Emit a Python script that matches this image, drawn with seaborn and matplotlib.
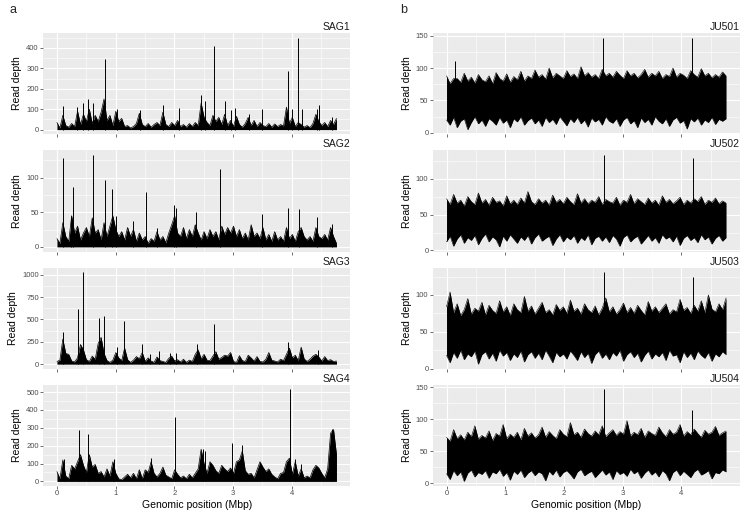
import numpy as np
import seaborn as sns
import matplotlib.pyplot as plt
from matplotlib.ticker import MultipleLocator

GENOME_MBP = 4.76

# panel a: coverage per 0.05 Mbp window + sharp single-window spikes
sag1_base = [35, 8, 70, 20, 12, 30, 15, 90, 25, 75,
             40, 100, 30, 70, 40, 85, 150, 45, 70, 20,
             90, 40, 55, 15, 20, 8, 15, 30, 80, 25,
             15, 30, 12, 25, 35, 20, 85, 25, 15, 35,
             20, 45, 15, 25, 12, 30, 15, 35, 20, 130,
             60, 35, 20, 70, 40, 60, 25, 75, 20, 45,
             15, 65, 25, 12, 30, 60, 20, 45, 15, 35,
             20, 15, 30, 12, 28, 15, 25, 18, 110, 30,
             60, 15, 35, 25, 12, 20, 10, 30, 75, 40,
             20, 35, 15, 45, 25, 55]
sag1_spike_x = [0.11, 0.34, 0.45, 0.53, 0.61, 0.82, 1.02, 1.41, 1.81, 2.07, 2.46, 2.52, 2.68,
                2.86, 2.96, 3.03, 3.27, 3.49, 3.94, 4.01, 4.11, 4.18, 4.43, 4.46, 4.68]
sag1_spike_y = [115, 110, 130, 150, 130, 345, 100, 95, 120, 105, 170, 140, 410,
                140, 95, 105, 75, 100, 285, 100, 450, 100, 100, 120, 60]

sag2_base = [12, 5, 35, 15, 8, 45, 20, 30, 10, 20,
             28, 15, 42, 20, 25, 10, 35, 15, 30, 45,
             25, 15, 22, 10, 28, 15, 25, 8, 20, 10,
             15, 5, 12, 8, 22, 10, 15, 6, 20, 32,
             45, 20, 15, 28, 12, 25, 15, 32, 20, 10,
             22, 12, 25, 15, 22, 10, 30, 18, 28, 20,
             30, 15, 25, 12, 20, 10, 32, 15, 20, 12,
             28, 10, 18, 8, 22, 10, 15, 8, 28, 12,
             18, 8, 22, 28, 15, 10, 15, 8, 28, 15,
             12, 18, 10, 28, 15, 5]
sag2_spike_x = [0.11, 0.24, 0.28, 0.62, 0.81, 0.94, 1.00, 1.30, 1.52, 1.71,
                1.99, 2.03, 2.37, 2.78, 3.49, 3.93, 4.13, 4.42, 4.68]
sag2_spike_y = [128, 44, 87, 133, 97, 84, 45, 38, 80, 28,
                61, 56, 50, 113, 48, 56, 55, 43, 33]

sag3_base = [30, 45, 280, 120, 110, 35, 25, 70, 220, 160,
             50, 30, 90, 55, 230, 300, 120, 40, 20, 45,
             130, 70, 40, 180, 50, 20, 45, 85, 60, 130,
             30, 70, 35, 20, 80, 40, 30, 20, 65, 90,
             35, 50, 25, 55, 20, 45, 30, 110, 160, 60,
             110, 45, 40, 90, 140, 55, 75, 100, 90, 130,
             30, 20, 95, 40, 30, 100, 70, 35, 85, 30,
             25, 55, 130, 45, 35, 25, 55, 40, 110, 180,
             70, 100, 40, 190, 60, 30, 55, 90, 110, 80,
             35, 85, 40, 50, 30, 35]
sag3_spike_x = [0.11, 0.35, 0.44, 0.72, 0.80, 1.02, 1.14, 1.45, 1.58, 1.73,
                1.93, 2.03, 2.38, 2.68, 3.94, 4.44]
sag3_spike_y = [360, 620, 1030, 520, 540, 190, 480, 220, 110, 150,
                120, 120, 230, 450, 250, 160]

sag4_base = [55, 15, 120, 30, 15, 90, 70, 110, 150, 90,
             50, 150, 80, 95, 45, 55, 25, 70, 30, 110,
             45, 15, 10, 25, 40, 20, 45, 15, 65, 15,
             65, 50, 110, 45, 25, 45, 80, 35, 25, 15,
             65, 40, 20, 30, 15, 40, 20, 45, 70, 180,
             100, 45, 110, 90, 60, 45, 90, 70, 55, 75,
             45, 110, 120, 170, 60, 40, 45, 20, 65, 110,
             80, 55, 70, 40, 25, 15, 45, 50, 110, 130,
             40, 110, 30, 70, 20, 30, 20, 65, 90, 75,
             45, 20, 70, 270, 290, 150]
sag4_spike_x = [0.12, 0.38, 0.53, 0.97, 1.61, 2.01, 2.48, 2.52, 2.98, 3.15, 3.97, 4.05, 4.16, 4.69]
sag4_spike_y = [125, 290, 265, 125, 130, 360, 180, 170, 215, 205, 515, 125, 100, 295]

# panel b: min / max read depth per 0.06 Mbp window + isolated spikes
ju501_hi = [88, 76, 84, 84, 78, 92, 80, 86, 77, 90,
            82, 79, 88, 76, 93, 84, 80, 91, 78, 87,
            82, 95, 80, 88, 84, 97, 86, 90, 83, 100,
            85, 92, 88, 84, 96, 87, 91, 84, 102, 88,
            93, 86, 90, 84, 98, 88, 92, 86, 95, 89,
            84, 96, 88, 92, 85, 90, 98, 86, 92, 88,
            95, 84, 90, 87, 100, 86, 92, 89, 84, 96,
            90, 86, 99, 88, 92, 85, 90, 86, 94, 88]
ju501_lo = [20, 12, 24, 8, 18, 22, 5, 16, 25, 14,
            20, 10, 22, 18, 12, 24, 15, 20, 8, 22,
            17, 25, 12, 19, 23, 14, 20, 10, 24, 16,
            21, 13, 25, 18, 11, 22, 16, 24, 14, 20,
            9, 23, 17, 21, 12, 25, 18, 15, 22, 10,
            20, 24, 14, 19, 8, 23, 16, 21, 12, 25,
            18, 14, 22, 10, 20, 24, 15, 19, 6, 22,
            17, 23, 12, 20, 16, 24, 13, 21, 18, 22]
ju501_spike_x = [0.14, 2.67, 4.18]
ju501_spike_y = [111, 146, 147]

ju502_hi = [72, 64, 78, 66, 70, 62, 75, 68, 64, 80,
            66, 71, 63, 74, 67, 69, 62, 76, 65, 70,
            64, 73, 66, 82, 68, 64, 72, 66, 70, 63,
            77, 67, 71, 65, 74, 68, 64, 79, 66, 72,
            65, 70, 67, 75, 64, 71, 68, 66, 74, 63,
            70, 67, 78, 65, 72, 68, 64, 73, 66, 70,
            63, 76, 67, 71, 65, 69, 74, 64, 70, 66,
            72, 68, 75, 64, 70, 67, 73, 65, 69, 66]
ju502_lo = [12, 20, 6, 16, 22, 10, 18, 14, 21, 8,
            17, 23, 12, 19, 15, 5, 20, 13, 22, 16,
            10, 19, 14, 21, 9, 18, 23, 13, 17, 20,
            7, 16, 22, 12, 19, 15, 21, 10, 18, 14,
            22, 8, 17, 20, 13, 19, 11, 21, 16, 6,
            18, 22, 12, 17, 20, 9, 15, 21, 13, 18,
            10, 22, 16, 19, 12, 20, 7, 17, 21, 14,
            18, 11, 22, 15, 19, 9, 17, 21, 13, 18]
ju502_spike_x = [2.68, 4.19]
ju502_spike_y = [133, 128]

ju503_hi = [84, 104, 76, 88, 72, 80, 95, 74, 82, 78,
            90, 73, 86, 79, 75, 92, 77, 84, 72, 88,
            80, 76, 98, 78, 85, 74, 82, 90, 76, 80,
            73, 87, 79, 84, 75, 93, 78, 82, 74, 88,
            80, 76, 85, 73, 82, 96, 77, 84, 74, 80,
            89, 76, 83, 75, 86, 79, 73, 91, 78, 84,
            76, 82, 88, 74, 80, 77, 94, 79, 83, 75,
            86, 78, 92, 76, 100, 81, 77, 88, 80, 96]
ju503_lo = [18, 8, 22, 14, 25, 12, 20, 16, 24, 6,
            19, 23, 13, 21, 10, 25, 17, 22, 11, 20,
            15, 24, 9, 19, 23, 14, 21, 12, 25, 17,
            8, 22, 16, 20, 13, 24, 18, 11, 23, 15,
            21, 7, 19, 24, 14, 20, 12, 22, 17, 25,
            10, 19, 23, 15, 21, 9, 18, 24, 13, 20,
            16, 22, 11, 25, 17, 19, 8, 23, 15, 21,
            12, 24, 18, 14, 22, 10, 20, 16, 23, 19]
ju503_spike_x = [2.68, 4.19]
ju503_spike_y = [131, 124]

ju504_hi = [72, 66, 84, 70, 76, 68, 80, 73, 90, 69,
            75, 71, 82, 67, 78, 74, 92, 70, 77, 72,
            80, 68, 86, 74, 79, 71, 76, 88, 72, 81,
            75, 70, 84, 77, 73, 95, 76, 80, 72, 85,
            78, 74, 82, 76, 90, 73, 79, 84, 75, 81,
            77, 98, 74, 80, 76, 86, 72, 82, 78, 75,
            88, 79, 73, 84, 77, 80, 92, 74, 81, 76,
            85, 78, 72, 83, 77, 80, 89, 75, 79, 82]
ju504_lo = [15, 6, 20, 12, 18, 3, 16, 21, 10, 17,
            14, 20, 8, 18, 15, 22, 11, 17, 5, 19,
            14, 21, 9, 16, 20, 12, 18, 15, 4, 19,
            13, 21, 10, 17, 20, 14, 7, 18, 22, 12,
            16, 19, 9, 15, 21, 13, 18, 6, 20, 14,
            17, 11, 22, 15, 19, 8, 16, 21, 13, 18,
            10, 20, 15, 4, 17, 21, 12, 19, 14, 9,
            18, 22, 13, 16, 20, 7, 17, 15, 21, 18]
ju504_spike_x = [2.69, 4.18]
ju504_spike_y = [147, 115]

left_panels = [("SAG1", sag1_base, sag1_spike_x, sag1_spike_y, 100),
               ("SAG2", sag2_base, sag2_spike_x, sag2_spike_y, 50),
               ("SAG3", sag3_base, sag3_spike_x, sag3_spike_y, 250),
               ("SAG4", sag4_base, sag4_spike_x, sag4_spike_y, 100)]
right_panels = [("JU501", ju501_lo, ju501_hi, ju501_spike_x, ju501_spike_y, 50),
                ("JU502", ju502_lo, ju502_hi, ju502_spike_x, ju502_spike_y, 50),
                ("JU503", ju503_lo, ju503_hi, ju503_spike_x, ju503_spike_y, 50),
                ("JU504", ju504_lo, ju504_hi, ju504_spike_x, ju504_spike_y, 50)]

sns.set_theme(style="darkgrid", rc={"axes.facecolor": "#EBEBEB", "grid.color": "white"})
plt.rcParams['font.family'] = ['Liberation Sans', 'DejaVu Sans']

fig, axes = plt.subplots(4, 2, figsize=(7.5, 5.13), dpi=100)
fig.subplots_adjust(left=0.0573, right=0.9867, top=0.9357, bottom=0.0526,
                    wspace=0.267, hspace=0.158)


def style_axis(ax, title, ystep, lo, hi, bottom_row):
    xr = GENOME_MBP * 0.05
    ax.set_xlim(-xr, GENOME_MBP + xr)
    pad = (hi - lo) * 0.05
    ax.set_ylim(lo - pad, hi + pad)
    ax.xaxis.set_major_locator(MultipleLocator(1))
    ax.xaxis.set_minor_locator(MultipleLocator(0.5))
    ax.yaxis.set_major_locator(MultipleLocator(ystep))
    ax.yaxis.set_minor_locator(MultipleLocator(ystep / 2))
    ax.grid(which='major', color='white', lw=0.8)
    ax.grid(which='minor', color='white', lw=0.4)
    ax.set_axisbelow(True)
    for s in ax.spines.values():
        s.set_visible(False)
    ax.tick_params(which='major', bottom=True, left=True, length=2, width=0.5,
                   color='#333333', labelsize=5.5, labelcolor='#4D4D4D', pad=1)
    ax.tick_params(which='minor', length=0)
    if not bottom_row:
        ax.set_xticklabels([])
    ax.set_title(title, loc='right', fontsize=7.5, pad=2, color='#1A1A1A')
    ax.set_ylabel("Read depth", fontsize=7.5, labelpad=3, color='black')
    ax.set_xlabel("Genomic position (Mbp)" if bottom_row else "", fontsize=7.5,
                  labelpad=2, color='black')


for i, (name, base, sx, sy, step) in enumerate(left_panels):
    ax = axes[i, 0]
    base = np.array(base)
    x = np.linspace(0, GENOME_MBP, len(base))
    ax.fill_between(x, 0, base, color='black', lw=0)
    sns.lineplot(x=x, y=base, ax=ax, color='black', lw=0.5)
    ax.vlines(sx, 0, sy, color='black', lw=0.7)
    style_axis(ax, name, step, 0, max(base.max(), max(sy)), i == 3)

for i, (name, lo, hi, sx, sy, step) in enumerate(right_panels):
    ax = axes[i, 1]
    lo = np.array(lo)
    hi = np.array(hi)
    x = np.linspace(0, GENOME_MBP, len(hi))
    ax.fill_between(x, lo, hi, color='black', lw=0)
    sns.lineplot(x=x, y=hi, ax=ax, color='black', lw=0.4)
    sns.lineplot(x=x, y=lo, ax=ax, color='black', lw=0.4)
    ax.vlines(sx, 30, sy, color='black', lw=0.7)
    style_axis(ax, name, step, lo.min(), max(hi.max(), max(sy)), i == 3)

fig.text(10 / 750, 1 - 10 / 513, "a", fontsize=9, va='center', ha='left')
fig.text(400 / 750, 1 - 10 / 513, "b", fontsize=9, va='center', ha='left')

plt.savefig("out.png", dpi=100)
